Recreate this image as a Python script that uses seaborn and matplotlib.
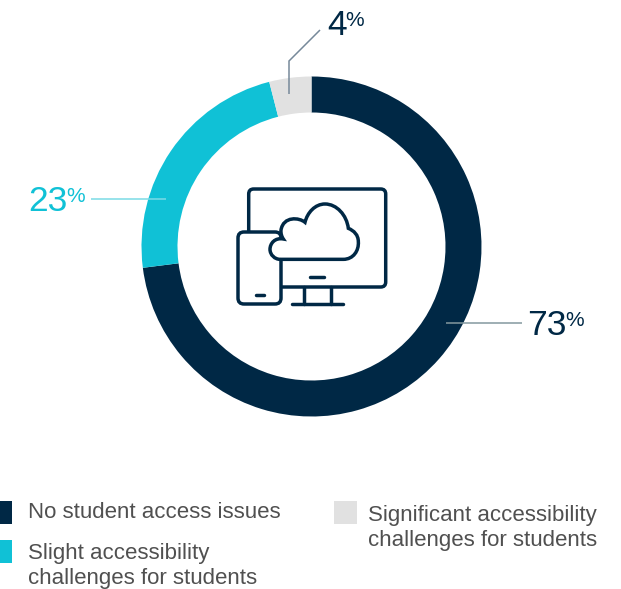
import matplotlib
matplotlib.use("Agg")
import matplotlib.pyplot as plt
import seaborn as sns
from matplotlib.patches import FancyBboxPatch, PathPatch, Rectangle
from matplotlib.path import Path

# Survey shares
categories = ["No student access issues",
              "Slight accessibility\nchallenges for students",
              "Significant accessibility\nchallenges for students"]
shares = [73, 23, 4]
ring_colors = ["#002845", "#10C1D6", "#E1E1E1"]

W, H = 621, 589
NAVY = "#002845"
sns.set_theme(style="white", rc={"font.family": ["Liberation Sans", "DejaVu Sans"]})
palette = sns.color_palette(ring_colors)

fig = plt.figure(figsize=(W / 100, H / 100), dpi=100, facecolor="white")

# Donut, in its own axes sized to the ring
CX, CY, R_OUT, R_IN = 311.5, 246.5, 170, 134
donut = fig.add_axes([(CX - R_OUT) / W, 1 - (CY + R_OUT) / H, 2 * R_OUT / W, 2 * R_OUT / H])
donut.pie(shares, colors=palette, startangle=90, counterclock=False, radius=1,
          wedgeprops={"width": 1 - R_IN / R_OUT, "linewidth": 0})
donut.set_xlim(-1, 1)
donut.set_ylim(-1, 1)

# Overlay in pixel units for callouts, icon and key
ov = fig.add_axes([0, 0, 1, 1])
ov.set_xlim(0, W)
ov.set_ylim(H, 0)
ov.axis("off")
ov.patch.set_alpha(0)


def callout(xs, ys, color):
    ov.plot(xs, ys, color=color, lw=1.1, solid_capstyle="butt", solid_joinstyle="miter")


def share_label(x_split, y_base, value, color):
    ov.text(x_split, y_base, str(value), ha="right", va="baseline", fontsize=25.5, color=color)
    ov.text(x_split - 1.5, y_base - 9.5, "%", ha="left", va="baseline", fontsize=15, color=color)


callout([446, 522], [323, 323], "#84999F")
callout([91, 166], [199, 199], "#7ADBE6")
callout([289, 289, 320], [94, 61, 30], "#76899A")
share_label(566.5, 335, shares[0], NAVY)
share_label(67.5, 211, shares[1], "#10C1D6")
share_label(347, 35, shares[2], NAVY)

# Devices-and-cloud icon
LW = 2.5
icon = {"edgecolor": NAVY, "linewidth": LW, "facecolor": "white"}
ov.add_patch(FancyBboxPatch((248.7, 189), 137, 98, boxstyle="round,pad=0,rounding_size=5", **icon))
ov.add_patch(FancyBboxPatch((238, 232), 43, 72, boxstyle="round,pad=0,rounding_size=6", **icon))
for xs, ys in [([310, 324], [276.5, 276.5]), ([256, 264], [295, 295]),
               ([303.5, 303.5], [287, 303.5]), ([330.5, 330.5], [287, 303.5]),
               ([292, 343], [303.5, 303.5])]:
    ov.plot(xs, ys, color=NAVY, lw=LW, solid_capstyle="round")


def z(x, y):
    return (200 + x / 3, 160 + y / 3)


cloud_segments = [
    (Path.MOVETO, [(240, 298)]),
    (Path.LINETO, [(430, 298)]),
    (Path.CURVE4, [(460, 298), (477, 272), (475, 245)]),
    (Path.CURVE4, [(475, 225), (462, 212), (445, 205)]),
    (Path.CURVE4, [(440, 165), (410, 132), (375, 132)]),
    (Path.CURVE4, [(345, 132), (322, 158), (315, 187)]),
    (Path.CURVE4, [(298, 172), (250, 168), (243, 210)]),
    (Path.CURVE4, [(242, 220), (245, 230), (250, 237)]),
    (Path.CURVE4, [(225, 232), (210, 250), (210, 268)]),
    (Path.CURVE4, [(210, 285), (225, 298), (240, 298)]),
]
verts, codes = [], []
for code, pts in cloud_segments:
    for p in pts:
        verts.append(z(*p))
        codes.append(code)
ov.add_patch(PathPatch(Path(verts, codes), **icon))

# Key
TEXT = "#505050"
ov.add_patch(Rectangle((0, 501), 12, 23, facecolor=palette[0], lw=0))
ov.add_patch(Rectangle((0, 540), 12, 23, facecolor=palette[1], lw=0))
ov.add_patch(Rectangle((334, 501), 23, 23, facecolor=palette[2], lw=0))
key_style = dict(ha="left", va="top", fontsize=16, color=TEXT, linespacing=1.29)
ov.text(28, 501.5, categories[0], **key_style)
ov.text(28, 542.5, categories[1], **key_style)
ov.text(368, 504.5, categories[2], **key_style)

fig.savefig("out.png", dpi=100, facecolor="white")
